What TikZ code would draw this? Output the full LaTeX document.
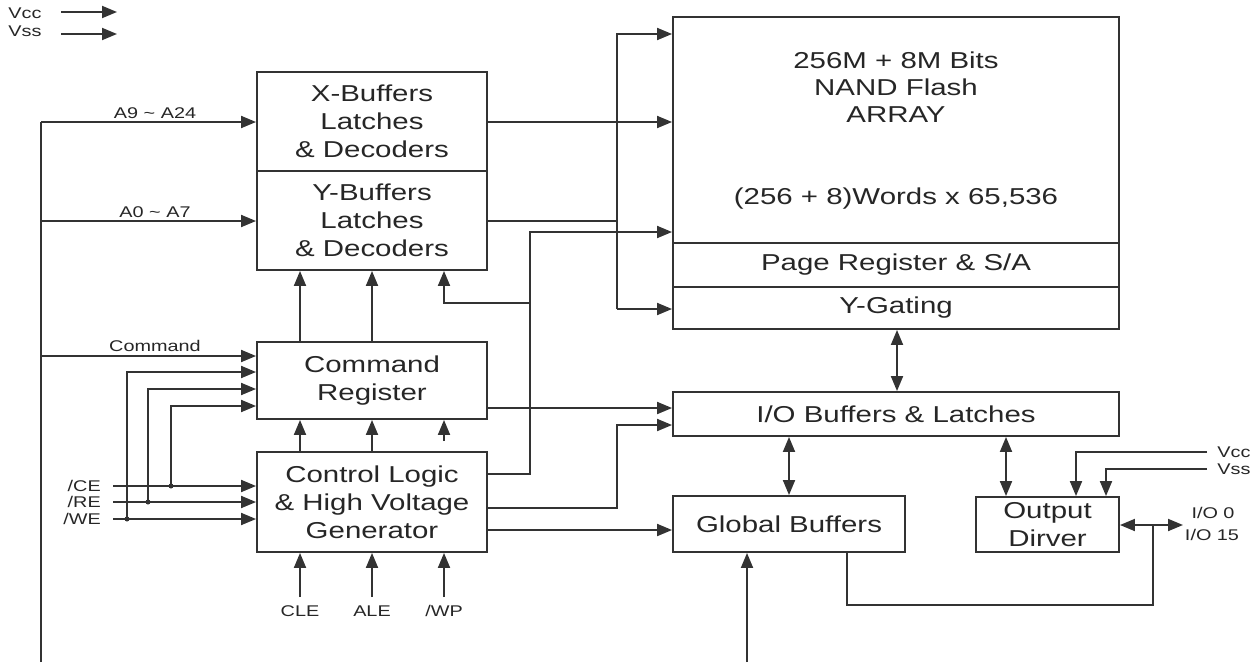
\documentclass[tikz,border=0pt]{standalone}
\usepackage{fontspec}
\setmainfont[FakeStretch=1.28]{Liberation Sans}
\usetikzlibrary{arrows.meta}
\newcommand\bigf{\fontsize{23}{28}\selectfont}
\newcommand\arrf{\fontsize{23}{27}\selectfont}
\newcommand\smf{\fontsize{15.5}{18}\selectfont}
\begin{document}
\begin{tikzpicture}[x=1pt,y=-1pt,
  box/.style={draw=black!80, line width=1.9pt, inner sep=0pt, align=center, text=black!85, font=\bigf},
  txt/.style={inner sep=0pt, align=center, text=black!85, font=\arrf},
  con/.style={draw=black!80, line width=1.9pt},
  arr/.style={con, -{Triangle[length=15pt,width=12pt]}},
  darr/.style={con, {Triangle[length=15pt,width=12pt]}-{Triangle[length=15pt,width=12pt]}},
  lbl/.style={inner sep=0pt, text=black!85, font=\smf},
  dot/.style={fill=black!80}]
\useasboundingbox (0,0) rectangle (1260,662);

% boxes
\node[box, minimum width=230pt, minimum height=99pt] (xbuf) at (372,121.5) {X-Buffers\\Latches\\\& Decoders};
\node[box, minimum width=230pt, minimum height=99pt] (ybuf) at (372,220.5) {Y-Buffers\\Latches\\\& Decoders};
\node[box, minimum width=230pt, minimum height=77pt] (cmd) at (372,380.5) {Command\\Register};
\node[box, minimum width=230pt, minimum height=100pt] (ctrl) at (372,502) {Control Logic\\\& High Voltage\\Generator};
\node[box, minimum width=446pt, minimum height=226pt] (flash) at (896,130) {};
\node[txt] (ft1) at (896,87) {256M + 8M Bits\\NAND Flash\\ARRAY};
\node[txt] (ft2) at (896,199) {(256 + 8)Words x 65,536};
\node[box, minimum width=446pt, minimum height=44pt] (page) at (896,265) {Page Register \& S/A};
\node[box, minimum width=446pt, minimum height=42pt] (ygate) at (896,308) {Y-Gating};
\node[box, minimum width=446pt, minimum height=44pt] (iob) at (896,414) {I/O Buffers \& Latches};
\node[box, minimum width=232pt, minimum height=56pt] (glob) at (789,524) {Global Buffers};
\node[box, minimum width=143pt, minimum height=55pt] (outd) at (1047.5,524.5) {Output\\Dirver};

% top-left supply
\node[lbl] (tvcc) at (25,13) {Vcc};
\node[lbl] (tvss) at (25,31) {Vss};
\coordinate (vcca) at (61,12); \coordinate (vccb) at (117,12);
\coordinate (vssa) at (61,34); \coordinate (vssb) at (117,34);
\draw[arr] (vcca) -- (vccb);
\draw[arr] (vssa) -- (vssb);

% left bus
\coordinate (busbot) at (41,662);
\coordinate (bustop) at (41,122);
\coordinate (ba0) at (41,221);
\coordinate (bcmd) at (41,356);
\draw[con] (busbot) -- (bustop);
\draw[arr] (bustop) -- (xbuf.west |- bustop);
\draw[arr] (ba0) -- (ybuf.west |- ba0);
\draw[arr] (bcmd) -- (cmd.west |- bcmd);
\node[lbl] (la9) at (155,113) {A9 \textasciitilde{} A24};
\node[lbl] (la0) at (155,212) {A0 \textasciitilde{} A7};
\node[lbl] (lcmd) at (155,346) {Command};

% control inputs
\node[lbl, anchor=east] (lce) at (101,486) {/CE};
\node[lbl, anchor=east] (lre) at (101,502) {/RE};
\node[lbl, anchor=east] (lwe) at (101,519) {/WE};
\coordinate (ce) at (113,486);
\coordinate (re) at (113,502);
\coordinate (we) at (113,519);
\draw[arr] (ce) -- (ctrl.west |- ce);
\draw[arr] (re) -- (ctrl.west |- re);
\draw[arr] (we) -- (ctrl.west |- we);
\coordinate (jwe) at (127,519);
\coordinate (jre) at (148,502);
\coordinate (jce) at (171,486);
\draw[arr] (jwe) |- (cmd.west |- 0,372);
\draw[arr] (jre) |- (cmd.west |- 0,389);
\draw[arr] (jce) |- (cmd.west |- 0,406);
\fill[dot] (jwe) circle (2.5pt);
\fill[dot] (jre) circle (2.5pt);
\fill[dot] (jce) circle (2.5pt);

% vertical arrows between left boxes
\draw[arr] (cmd.north -| 300,0) -- (ybuf.south -| 300,0);
\draw[arr] (cmd.north -| 372,0) -- (ybuf.south -| 372,0);
\draw[arr] (ctrl.north -| 300,0) -- (cmd.south -| 300,0);
\draw[arr] (ctrl.north -| 372,0) -- (cmd.south -| 372,0);
\coordinate (sh) at (444,441);
\draw[arr] (sh) -- (cmd.south -| sh);

% CLE ALE WP
\coordinate (cle) at (300,597);
\coordinate (ale) at (372,597);
\coordinate (wp) at (444,597);
\draw[arr] (cle) -- (ctrl.south -| cle);
\draw[arr] (ale) -- (ctrl.south -| ale);
\draw[arr] (wp) -- (ctrl.south -| wp);
\node[lbl] (tcle) at (300,611) {CLE};
\node[lbl] (tale) at (372,611) {ALE};
\node[lbl] (twp) at (444,611) {/WP};

% control logic outputs
\draw[arr] (ctrl.east |- 0,474) -- (530,474) -- (530,232) -- (flash.west |- 0,232);
\draw[arr] (530,303) -- (444,303) -- (ybuf.south -| 444,0);
\draw[arr] (ctrl.east |- 0,508) -- (617,508) -- (617,425) -- (iob.west |- 0,425);
\draw[arr] (ctrl.east |- 0,530) -- (glob.west |- 0,530);
\draw[arr] (cmd.east |- 0,408) -- (iob.west |- 0,408);

% decoders to array
\draw[arr] (xbuf.east |- 0,122) -- (flash.west |- 0,122);
\draw[con] (ybuf.east |- 0,221) -- (617,221);
\draw[arr] (617,309) -- (617,34) -- (flash.west |- 0,34);
\draw[arr] (617,309) -- (ygate.west |- 0,309);

% right side
\draw[darr] (ygate.south -| 897,0) -- (iob.north -| 897,0);
\draw[darr] (iob.south -| 789,0) -- (glob.north -| 789,0);
\draw[darr] (iob.south -| 1006,0) -- (outd.north -| 1006,0);
\coordinate (vcc) at (1207,452);
\coordinate (vss) at (1207,469);
\draw[arr] (vcc) -- (1076,452) -- (outd.north -| 1076,0);
\draw[arr] (vss) -- (1106,469) -- (outd.north -| 1106,0);
\node[lbl] (rvcc) at (1234,452) {Vcc};
\node[lbl] (rvss) at (1234,469) {Vss};
\coordinate (io) at (1183,525);
\draw[darr] (outd.east |- io) -- (io);
\draw[con] (glob.south -| 847,0) -- (847,605) -- (1153,605) -- (1153,525);
\coordinate (gin) at (747,662);
\draw[arr] (gin) -- (glob.south -| gin);
\node[lbl] (tio0) at (1213,513) {I/O 0};
\node[lbl] (tio15) at (1212,535) {I/O 15};
\end{tikzpicture}
\end{document}
